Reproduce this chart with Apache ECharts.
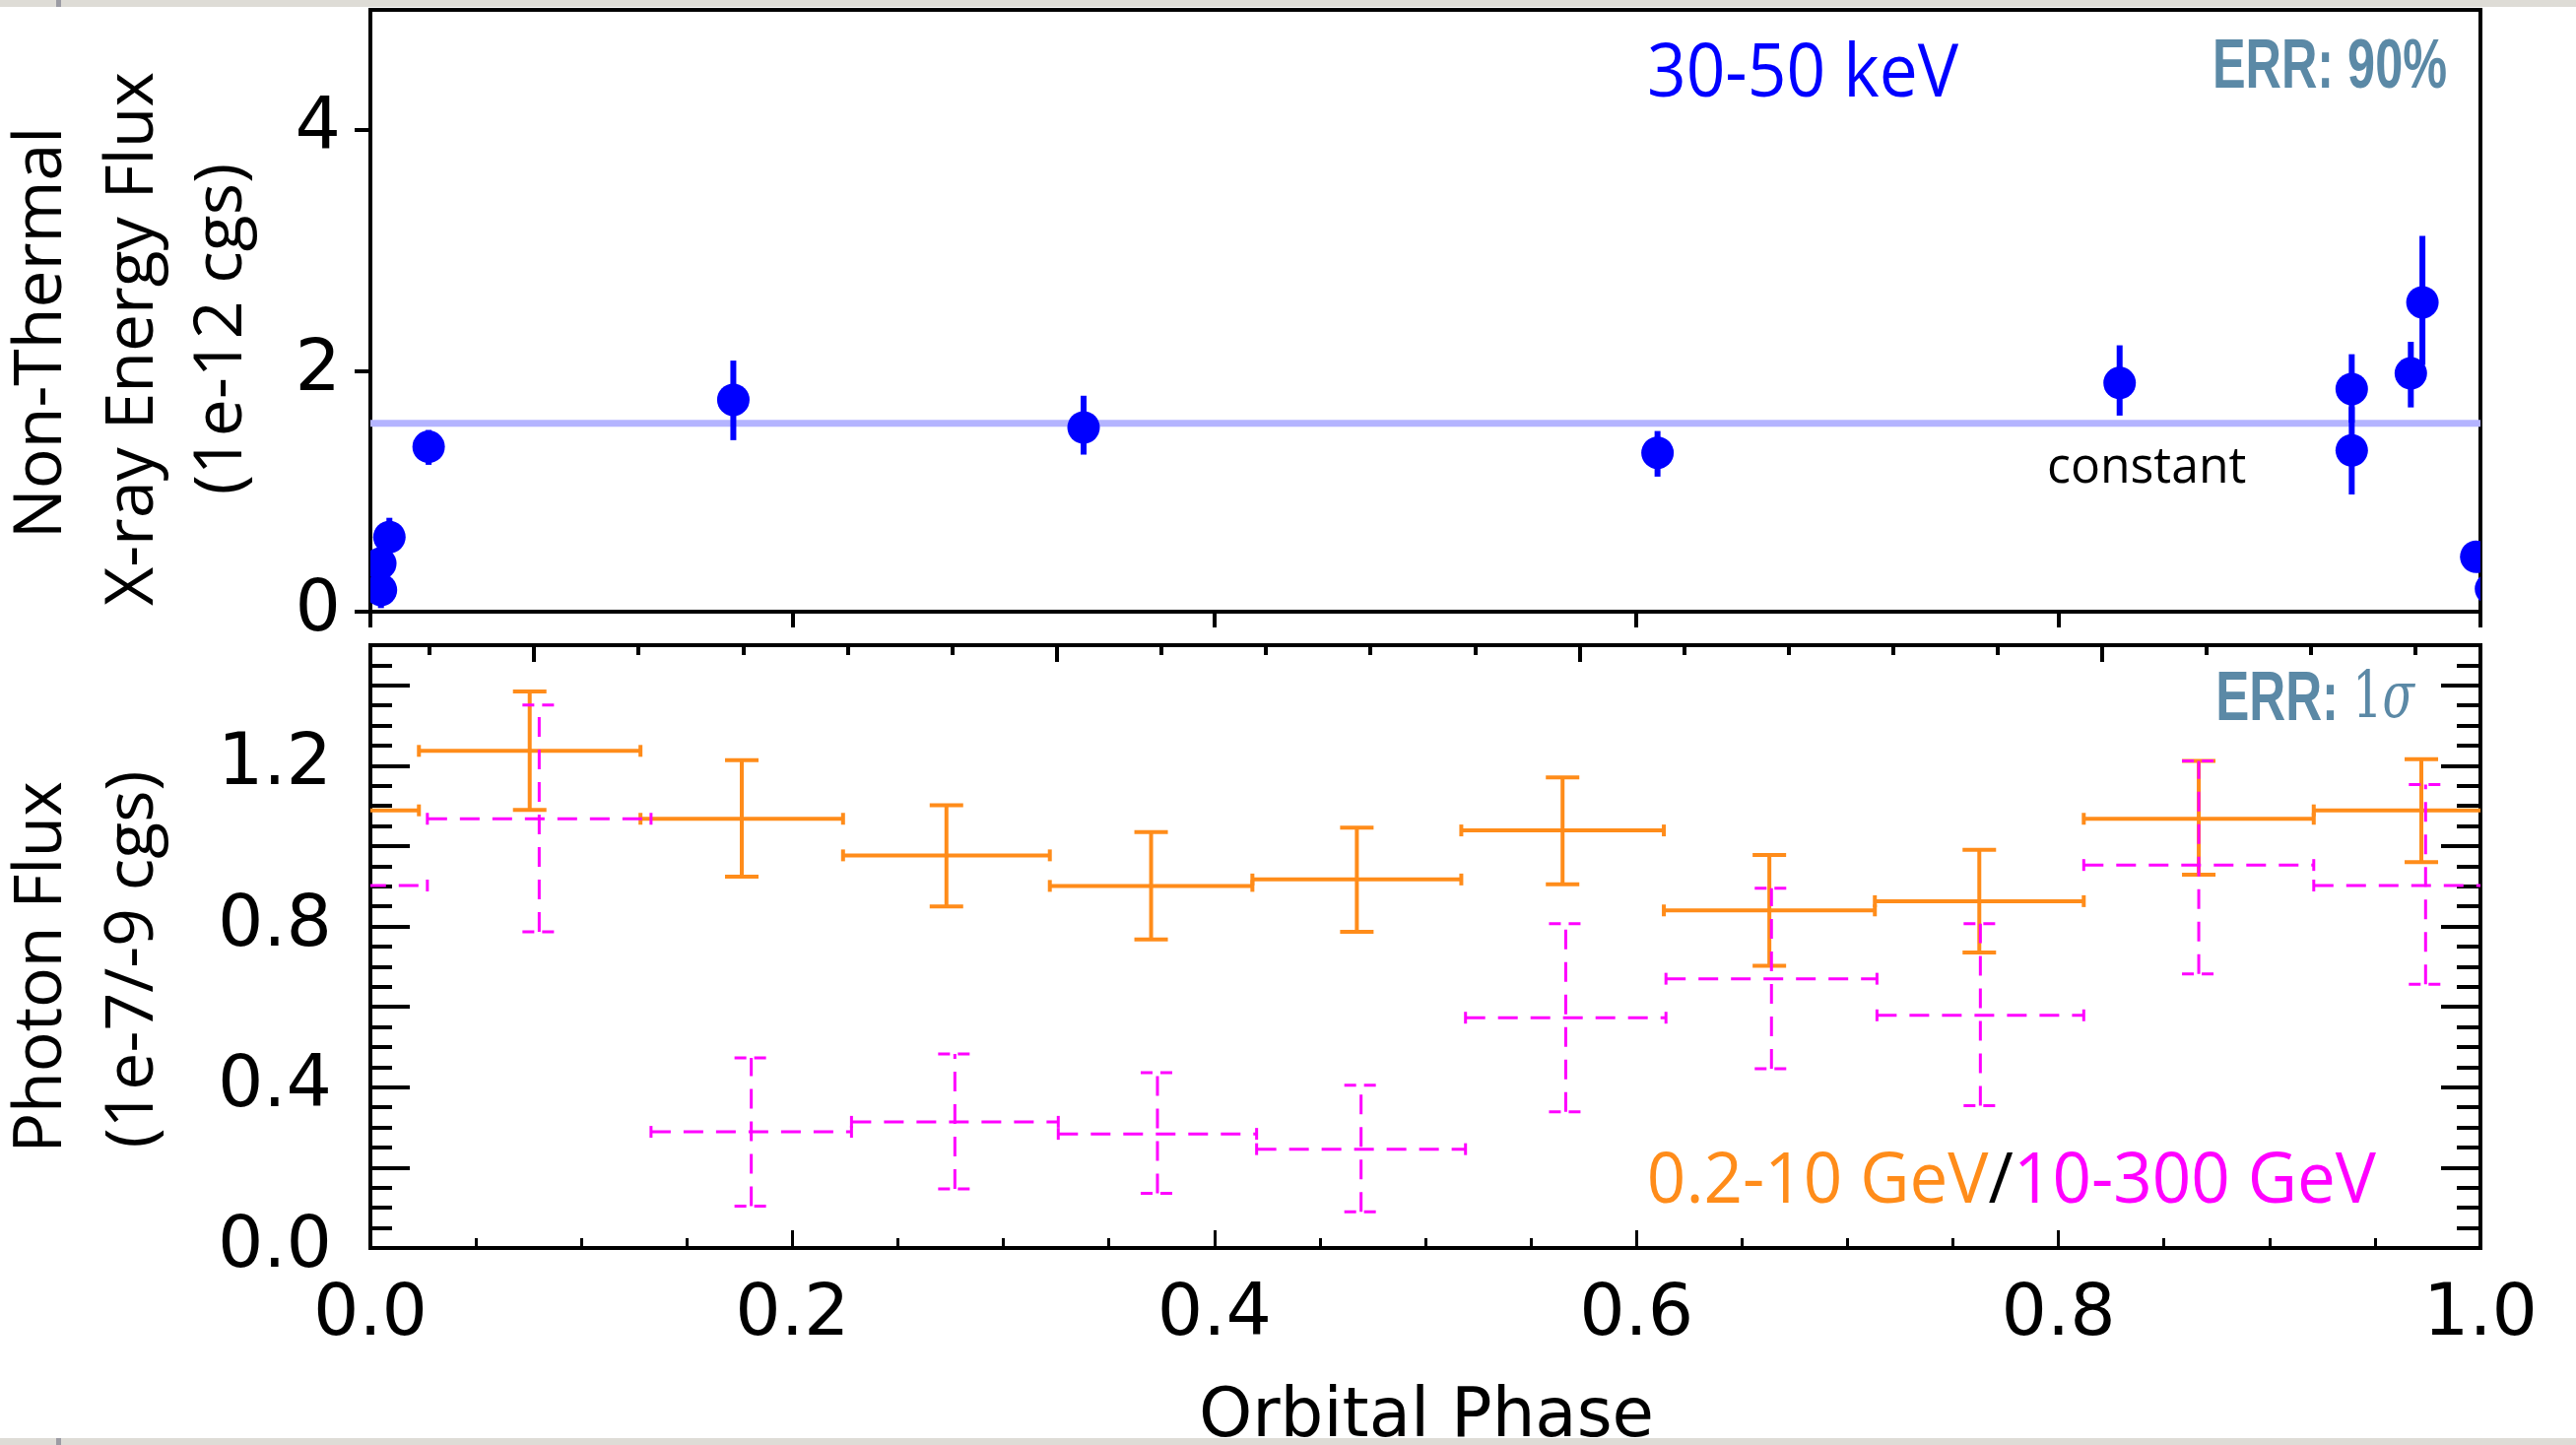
<!DOCTYPE html>
<html>
<head>
<meta charset="utf-8">
<script src="https://cdn.jsdelivr.net/npm/echarts@6/dist/echarts.min.js"></script>
<style>
html, body { margin: 0; padding: 0; background: #fff; }
#chart { width: 2615px; height: 1467px; }
</style>
</head>
<body>
<div id="chart"></div>
<script>
// top panel: 30-50 keV non-thermal flux (1e-12 cgs), 90% errors
var xrayPhase = [0.005, 0.0047, 0.009, 0.0276, 0.172, 0.338, 0.610, 0.829, 0.939, 0.939, 0.967, 0.9725, 0.998, 1.005];
var xrayFlux  = [0.18, 0.40, 0.62, 1.37, 1.76, 1.53, 1.32, 1.90, 1.85, 1.34, 1.98, 2.57, 0.456, 0.19];
var xrayLow   = [0.03, 0.30, 0.46, 1.22, 1.425, 1.305, 1.122, 1.629, 1.57, 0.974, 1.697, 2.05, 0.36, 0.03];
var xrayHigh  = [0.30, 0.50, 0.78, 1.51, 2.086, 1.794, 1.501, 2.213, 2.139, 1.70, 2.242, 3.121, 0.55, 0.30];
var constantLevel = 1.566;

// bottom panel: 0.2-10 GeV (orange) and 10-300 GeV (magenta), 1 sigma
var gevEdges = [0.023, 0.128, 0.224, 0.322, 0.418, 0.517, 0.613, 0.713, 0.812, 0.921, 1.023];
var gevFlux  = [1.237, 1.068, 0.977, 0.901, 0.917, 1.039, 0.840, 0.863, 1.068, 1.089];
var gevLow   = [1.090, 0.924, 0.850, 0.768, 0.787, 0.905, 0.702, 0.735, 0.929, 0.960];
var gevHigh  = [1.385, 1.214, 1.102, 1.035, 1.046, 1.171, 0.978, 0.991, 1.212, 1.216];

var hiEdges = [0.027, 0.133, 0.228, 0.326, 0.420, 0.519, 0.614, 0.714, 0.812, 0.921, 1.027];
var hiFlux  = [1.068, 0.289, 0.314, 0.284, 0.246, 0.573, 0.670, 0.579, 0.953, 0.902];
var hiLow   = [0.787, 0.104, 0.147, 0.136, 0.090, 0.339, 0.446, 0.354, 0.682, 0.656];
var hiHigh  = [1.351, 0.473, 0.483, 0.436, 0.405, 0.807, 0.895, 0.807, 1.212, 1.153];

// tick labels
var xrayTicks = [0, 2, 4];
var photonLabels = [0, 0.4, 0.8, 1.2];
var photonMajor = [0, 0.2, 0.4, 0.6, 0.8, 1.0, 1.2, 1.4];
// upper axis of the lower panel is offset from phase
var topTickStart = 0.0776, topTickStep = 0.04954;

var chart = echarts.init(document.getElementById('chart'));

var topMinor = [], topMajor = [];
for (var k = -1; k <= 18; k++) {
  var v = +(topTickStart + k * topTickStep).toFixed(4);
  if (k % 5 === 0) topMajor.push(v); else topMinor.push(v);
}

var xrayData = xrayPhase.map(function (p, i) { return [p, xrayFlux[i], xrayLow[i], xrayHigh[i]]; });
function binRows(edges, f, lo, hi) {
  return f.map(function (y, i) { return [edges[i], edges[i + 1], y, lo[i], hi[i]]; });
}

function line(a, b, color, w, dash) {
  return { type: 'line', shape: { x1: a[0], y1: a[1], x2: b[0], y2: b[1] },
    style: { stroke: color, lineWidth: w, lineDash: dash || null, fill: null } };
}

function crossRenderer(color, w, dash) {
  return function (params, api) {
    var lo = api.value(0), hi = api.value(1), y = api.value(2);
    var kids = [];
    function hbar(a, b) {
      var p1 = api.coord([a, y]), p2 = api.coord([b, y]);
      kids.push(line(p1, p2, color, w, dash));
      kids.push(line([p1[0], p1[1] - 6], [p1[0], p1[1] + 6], color, w));
      kids.push(line([p2[0], p2[1] - 6], [p2[0], p2[1] + 6], color, w));
    }
    hbar(lo, hi);
    if (hi > 1) hbar(lo - 1, hi - 1);
    var mid = (lo + hi) / 2;
    var b = api.coord([mid, api.value(3)]), t = api.coord([mid, api.value(4)]);
    kids.push(line(b, t, color, w, dash));
    kids.push(line([b[0] - 17, b[1]], [b[0] + 17, b[1]], color, w, dash ? [12, 8] : null));
    kids.push(line([t[0] - 17, t[1]], [t[0] + 17, t[1]], color, w, dash ? [12, 8] : null));
    return { type: 'group', children: kids };
  };
}

function xrayRender(params, api) {
  var p = api.coord([api.value(0), api.value(1)]);
  var a = api.coord([api.value(0), api.value(2)]);
  var b = api.coord([api.value(0), api.value(3)]);
  return { type: 'group', children: [
    line(a, b, '#0000ff', 6),
    { type: 'circle', shape: { cx: p[0], cy: p[1], r: 16.5 }, style: { fill: '#0000ff' } }
  ] };
}

var black = '#000';
var tickFont = { fontFamily: 'DejaVu Sans', fontSize: 73, color: black };
function baseAxis(extra) {
  var ax = {
    type: 'value', min: 0, max: 1,
    axisLine: { show: false, onZero: false },
    axisTick: { show: false },
    axisLabel: { show: false },
    splitLine: { show: false }
  };
  return Object.assign(ax, extra);
}

var option = {
  animation: false,
  backgroundColor: '#fff',
  grid: [
    { left: 376, top: 10, width: 2142, height: 611, show: true, borderColor: black, borderWidth: 4, outerBoundsMode: 'none' },
    { left: 376, top: 655, width: 2142, height: 612, show: true, borderColor: black, borderWidth: 4, outerBoundsMode: 'none' }
  ],
  xAxis: [
    baseAxis({ gridIndex: 0, position: 'bottom', interval: 0.2,
      axisTick: { show: true, length: 16, lineStyle: { color: black, width: 4 } } }),
    baseAxis({ gridIndex: 1, position: 'bottom', interval: 0.2,
      axisTick: { show: true, inside: true, length: 18, lineStyle: { color: black, width: 3 } },
      minorTick: { show: true, splitNumber: 4, length: 10, lineStyle: { color: black, width: 3 } },
      axisLabel: Object.assign({ show: true, margin: 33, formatter: function (v) { return v.toFixed(1); } }, tickFont) }),
    baseAxis({ gridIndex: 1, position: 'top',
      axisTick: { show: true, inside: true, length: 17, customValues: topMajor, lineStyle: { color: black, width: 4 } } }),
    baseAxis({ gridIndex: 1, position: 'top',
      axisTick: { show: true, inside: true, length: 10, customValues: topMinor, lineStyle: { color: black, width: 4 } } })
  ],
  yAxis: [
    baseAxis({ gridIndex: 0, position: 'left', max: 5,
      axisTick: { show: true, length: 16, customValues: xrayTicks, lineStyle: { color: black, width: 4 } },
      axisLabel: Object.assign({ show: true, margin: 30, customValues: xrayTicks }, tickFont) }),
    baseAxis({ gridIndex: 1, position: 'left', max: 1.5,
      axisTick: { show: true, inside: true, length: 40, customValues: photonMajor, lineStyle: { color: black, width: 4 } },
      axisLabel: Object.assign({ show: true, margin: 39, customValues: photonLabels,
        formatter: function (v) { return v.toFixed(1); } }, tickFont) }),
    baseAxis({ gridIndex: 1, position: 'left', max: 1.5, interval: 0.05,
      axisTick: { show: true, inside: true, length: 22, lineStyle: { color: black, width: 4 } } }),
    baseAxis({ gridIndex: 1, position: 'right', max: 1.5,
      axisTick: { show: true, inside: true, length: 40, customValues: photonMajor, lineStyle: { color: black, width: 4 } } }),
    baseAxis({ gridIndex: 1, position: 'right', max: 1.5, interval: 0.05,
      axisTick: { show: true, inside: true, length: 24, lineStyle: { color: black, width: 4 } } })
  ],
  series: [
    { type: 'line', xAxisIndex: 0, yAxisIndex: 0, silent: true, symbol: 'none', z: 1,
      data: [[0, constantLevel], [1, constantLevel]],
      lineStyle: { color: '#b4b4ff', width: 7 } },
    { type: 'custom', xAxisIndex: 0, yAxisIndex: 0, clip: true, z: 3,
      renderItem: xrayRender, data: xrayData },
    { type: 'custom', xAxisIndex: 1, yAxisIndex: 1, clip: true, z: 3,
      renderItem: crossRenderer('#ff8c1a', 4), data: binRows(gevEdges, gevFlux, gevLow, gevHigh) },
    { type: 'custom', xAxisIndex: 1, yAxisIndex: 1, clip: true, z: 4,
      renderItem: crossRenderer('#ff00ff', 3, [20, 13]), data: binRows(hiEdges, hiFlux, hiLow, hiHigh) }
  ],
  graphic: [
    { type: 'text', x: 43, y: 338, rotation: Math.PI / 2,
      style: { text: 'Non-Thermal', fontFamily: 'Open Sans', fontSize: 68, fill: black, align: 'center', verticalAlign: 'middle' } },
    { type: 'text', x: 136, y: 344, rotation: Math.PI / 2,
      style: { text: 'X-ray Energy Flux', fontFamily: 'Open Sans', fontSize: 68, fill: black, align: 'center', verticalAlign: 'middle' } },
    { type: 'text', x: 226, y: 334, rotation: Math.PI / 2,
      style: { text: '(1e-12 cgs)', fontFamily: 'Open Sans', fontSize: 68, fill: black, align: 'center', verticalAlign: 'middle' } },
    { type: 'text', x: 43, y: 982, rotation: Math.PI / 2,
      style: { text: 'Photon Flux', fontFamily: 'Open Sans', fontSize: 68, fill: black, align: 'center', verticalAlign: 'middle' } },
    { type: 'text', x: 136, y: 974, rotation: Math.PI / 2,
      style: { text: '(1e-7/-9 cgs)', fontFamily: 'Open Sans', fontSize: 68, fill: black, align: 'center', verticalAlign: 'middle' } },
    { type: 'text', x: 1448, y: 1440,
      style: { text: 'Orbital Phase', fontFamily: 'DejaVu Sans', fontSize: 69, fill: black, align: 'center', verticalAlign: 'middle' } },
    { type: 'text', x: 1830, y: 77, scaleX: 0.926,
      style: { text: '30-50 keV', fontFamily: 'Open Sans', fontSize: 75, fill: '#0000ff', align: 'center', verticalAlign: 'middle' } },
    { type: 'text', x: 2484, y: 69, scaleX: 0.71,
      style: { text: 'ERR: 90%', fontFamily: 'Liberation Sans', fontWeight: 'bold', fontSize: 71, fill: '#5b89a6', align: 'right', verticalAlign: 'middle' } },
    { type: 'text', x: 2078, y: 475, scaleX: 0.96,
      style: { text: 'constant', fontFamily: 'Open Sans', fontSize: 52, fill: black, align: 'left', verticalAlign: 'middle' } },
    { type: 'text', x: 2451, y: 711, scaleX: 0.72,
      style: { text: '{a|ERR:} {b|1}{c|σ}', fontFamily: 'Liberation Sans', fontSize: 71, fill: '#5b89a6', align: 'right', verticalAlign: 'middle',
        rich: {
          a: { fontFamily: 'Liberation Sans', fontWeight: 'bold', fontSize: 71, fill: '#5b89a6' },
          b: { fontFamily: 'DejaVu Serif', fontSize: 66, fill: '#5b89a6' },
          c: { fontFamily: 'DejaVu Serif', fontStyle: 'italic', fontSize: 66, fill: '#5b89a6' }
        } } },
    { type: 'text', x: 2412, y: 1200, scaleX: 0.96,
      style: { text: '{o|0.2-10 GeV}{k|/}{m|10-300 GeV}', fontFamily: 'Open Sans', fontSize: 72, align: 'right', verticalAlign: 'middle',
        rich: {
          o: { fontFamily: 'Open Sans', fontSize: 72, fill: '#ff8c1a' },
          k: { fontFamily: 'Open Sans', fontSize: 72, fill: black },
          m: { fontFamily: 'Open Sans', fontSize: 72, fill: '#ff00ff' }
        } } },
    { type: 'rect', z: 100, shape: { x: 0, y: 0, width: 2615, height: 7 }, style: { fill: '#dedcd6' } },
    { type: 'rect', z: 100, shape: { x: 0, y: 1460, width: 2615, height: 7 }, style: { fill: '#dedcd6' } },
    { type: 'rect', z: 101, shape: { x: 57, y: 0, width: 5, height: 7 }, style: { fill: '#9c9ca4' } },
    { type: 'rect', z: 101, shape: { x: 57, y: 1460, width: 5, height: 7 }, style: { fill: '#9c9ca4' } }
  ]
};
chart.setOption(option);
</script>
</body>
</html>
